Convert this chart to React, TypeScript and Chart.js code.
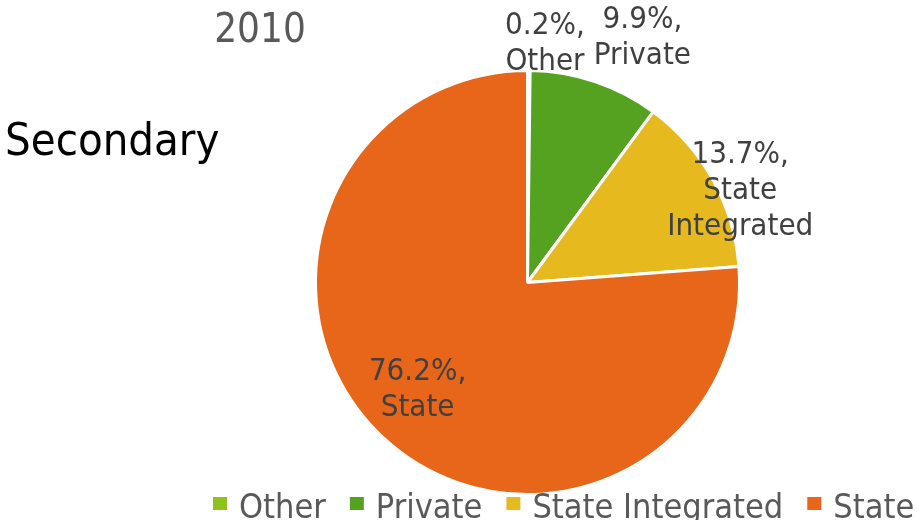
import React, { useEffect, useRef } from "react";
import { Chart, registerables } from "chart.js";

Chart.register(...registerables);

const categories = ["Other", "Private", "State Integrated", "State"];
const shares = [0.2, 9.9, 13.7, 76.2];
const colors = ["#8DC21F", "#54A220", "#E6B91E", "#E86619"];
const chartYear = "2010";
const sideTitle = "Secondary";

const FONT = '"DejaVu Sans Condensed", "DejaVu Sans", sans-serif';

// label placement: radial factor and nudge for each slice
const labelPlace = [
  { k: 1.1, dx: 16, dy: -5 },
  { k: 1.2, dx: 34, dy: -3 },
  { k: 1.05, dx: 18, dy: 16 },
  { k: 0.7, dx: -9, dy: -1 },
];

const textPlugin = {
  id: "textPlugin",
  afterDraw(chart: any) {
    const ctx = chart.ctx as CanvasRenderingContext2D;
    ctx.save();
    // title
    ctx.fillStyle = "#595959";
    ctx.font = `40px ${FONT}`;
    ctx.textAlign = "center";
    ctx.textBaseline = "alphabetic";
    ctx.fillText(chartYear, 260, 42);
    // side title
    ctx.fillStyle = "#000000";
    ctx.font = `45px ${FONT}`;
    ctx.textAlign = "left";
    ctx.fillText(sideTitle, 5, 155);

    // data labels
    const meta = chart.getDatasetMeta(0);
    ctx.fillStyle = "#404040";
    ctx.font = `31px ${FONT}`;
    ctx.textAlign = "center";
    ctx.textBaseline = "middle";
    const lh = 36;
    meta.data.forEach((arc: any, i: number) => {
      const p = arc.getProps(["x", "y", "startAngle", "endAngle", "outerRadius"], true);
      const mid = (p.startAngle + p.endAngle) / 2;
      const pl = labelPlace[i];
      const cx = p.x + Math.cos(mid) * p.outerRadius * pl.k + pl.dx;
      const cy = p.y + Math.sin(mid) * p.outerRadius * pl.k + pl.dy;
      const lines = [shares[i].toFixed(1) + "%,", ...categories[i].split(" ")];
      const top = cy - ((lines.length - 1) * lh) / 2;
      lines.forEach((ln, j) => ctx.fillText(ln, cx, top + j * lh));
    });

    // legend
    ctx.font = `34px ${FONT}`;
    ctx.textAlign = "left";
    ctx.textBaseline = "alphabetic";
    let x = 213;
    const baseY = 518;
    categories.forEach((c, i) => {
      ctx.fillStyle = colors[i];
      ctx.fillRect(x, 497, 14, 13);
      x += 26;
      ctx.fillStyle = "#595959";
      ctx.fillText(c, x, baseY);
      x += ctx.measureText(c).width + 24;
    });
    ctx.restore();
  },
};

export default function App() {
  const ref = useRef<HTMLCanvasElement>(null);
  useEffect(() => {
    document.body.style.margin = "0";
    const chart = new Chart(ref.current!, {
      type: "pie",
      data: {
        labels: categories,
        datasets: [
          {
            data: shares,
            backgroundColor: colors,
            borderColor: "#ffffff",
            borderWidth: 3,
          },
        ],
      },
      options: {
        responsive: false,
        animation: false,
        layout: { padding: { left: 314, right: 176, top: 69, bottom: 24 } },
        plugins: {
          legend: { display: false },
          title: { display: false },
          tooltip: { enabled: false },
        },
      },
      plugins: [textPlugin],
    });
    return () => chart.destroy();
  }, []);
  return (
    <canvas
      ref={ref}
      width={917}
      height={520}
      style={{ display: "block", width: 917, height: 520 }}
    />
  );
}
